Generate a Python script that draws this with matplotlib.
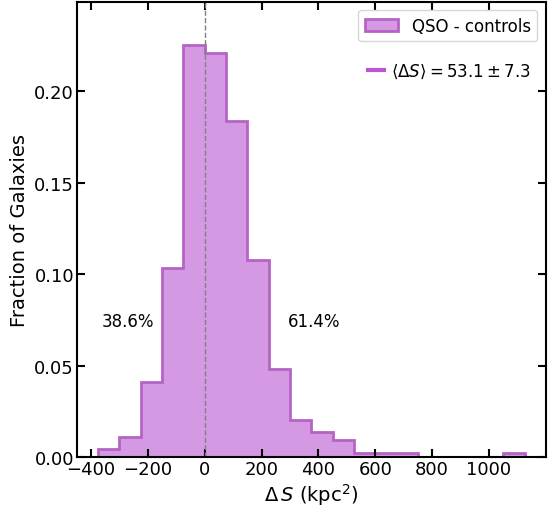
import matplotlib.pyplot as plt
from matplotlib.lines import Line2D
import numpy as np

# histogram of Delta S (QSO hosts minus matched controls), normalised fractions
bin_edges = np.linspace(-375.5, 1126.0, 21)
fractions = [0.0047, 0.0112, 0.0412, 0.1036, 0.2254, 0.2208, 0.1839, 0.1081,
             0.0482, 0.0207, 0.0140, 0.0093, 0.0022, 0.0022, 0.0022,
             0.0, 0.0, 0.0, 0.0, 0.0022]
frac_left = 38.6
frac_right = 61.4
mean_ds = 53.1
err_ds = 7.3

fig = plt.figure(figsize=(5.53, 5.10), dpi=100)
ax = fig.add_axes([0.139, 0.101, 0.848, 0.894])

ax.hist(bin_edges[:-1], bins=bin_edges, weights=fractions, histtype='stepfilled',
        facecolor=(186/255, 85/255, 211/255, 0.6),
        edgecolor=(0.71, 0.39, 0.77), linewidth=2, label='QSO - controls')
ax.axvline(0, color='gray', linestyle='--', linewidth=1)

ax.text(-272, 0.0745, '%.1f%%' % frac_left, fontsize=12, ha='center', va='center')
ax.text(385, 0.0745, '%.1f%%' % frac_right, fontsize=12, ha='center', va='center')

ax.set_xlim(-450, 1200)
ax.set_ylim(0, 0.249)
ax.set_xticks([-400, -200, 0, 200, 400, 600, 800, 1000])
ax.set_yticks([0.0, 0.05, 0.10, 0.15, 0.20])
ax.yaxis.set_major_formatter(plt.FormatStrFormatter('%.2f'))
ax.tick_params(direction='in', top=True, right=True, length=6, width=1.5,
               labelsize=13, pad=2)
for s in ax.spines.values():
    s.set_linewidth(1.5)

ax.set_xlabel(r'$\Delta\,S$ (kpc$^2$)', fontsize=14, labelpad=2)
ax.set_ylabel('Fraction of Galaxies', fontsize=14, labelpad=4)

leg1 = ax.legend(loc='upper right', fontsize=12)
ax.add_artist(leg1)
h = Line2D([], [], color='mediumorchid', linewidth=3)
ax.legend([h], [r'$\langle \Delta S \rangle = %.1f \pm %.1f$' % (mean_ds, err_ds)],
          loc='upper right', bbox_to_anchor=(1.0, 0.9), frameon=False,
          fontsize=12, handlelength=1.0, handletextpad=0.4)

fig.savefig('out.png', dpi=100)
